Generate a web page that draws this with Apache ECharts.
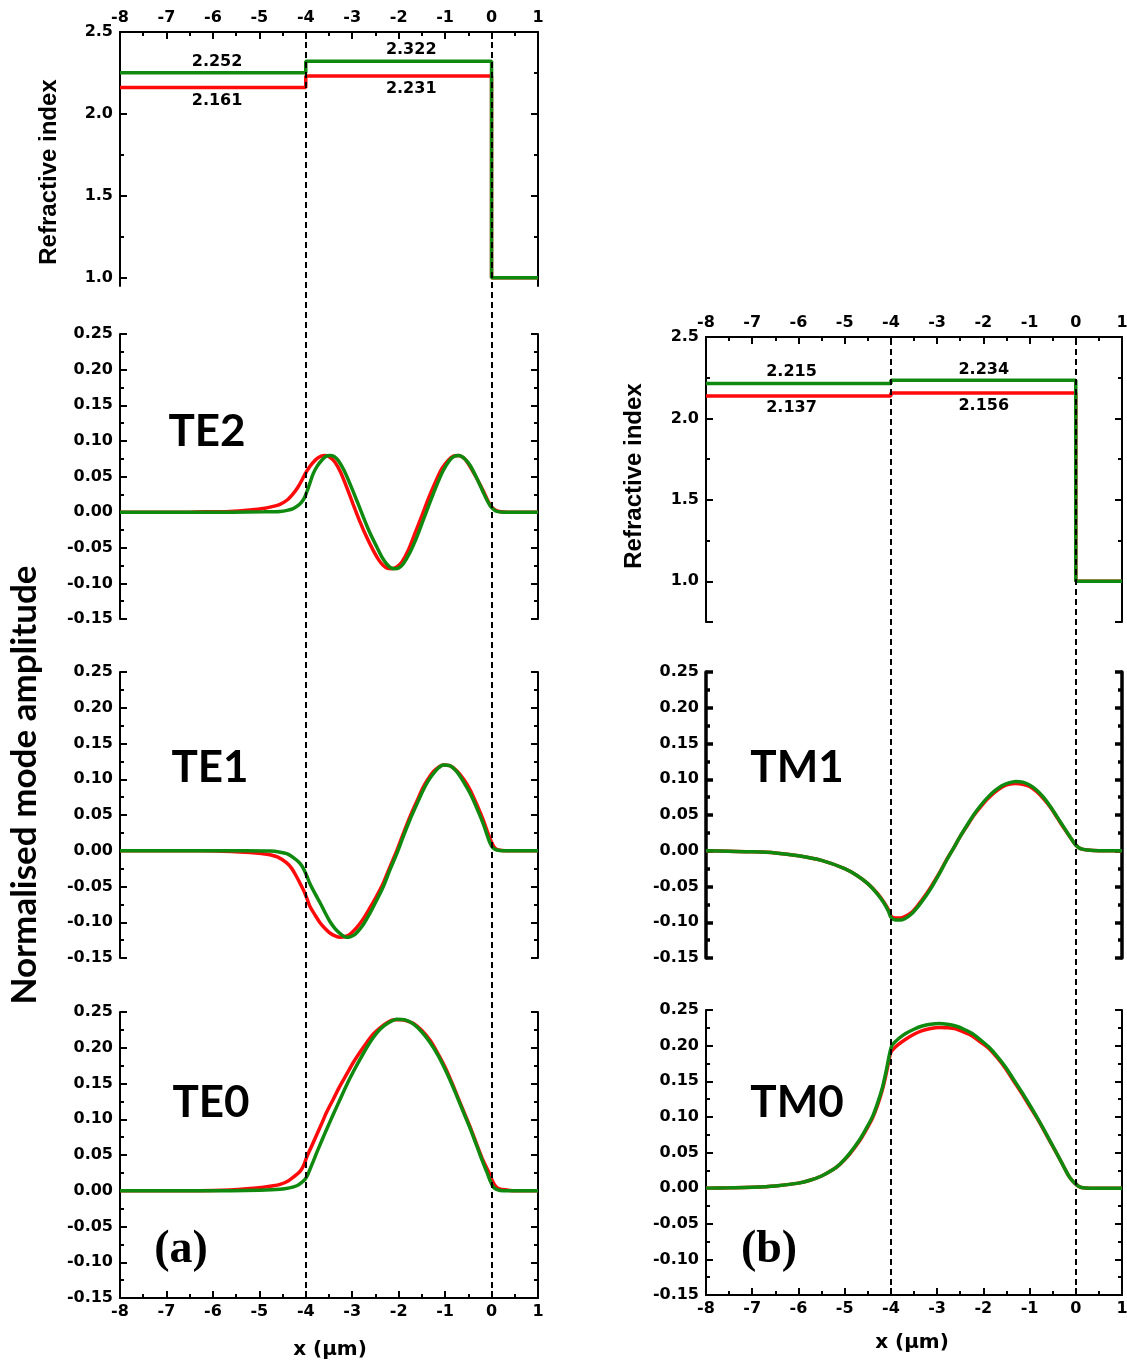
<!DOCTYPE html>
<html>
<head>
<meta charset="utf-8">
<title>Mode profiles</title>
<script src="https://cdn.jsdelivr.net/npm/echarts@6/dist/echarts.min.js"></script>
<style>
html,body{margin:0;padding:0;background:#fff}
#main{width:1127px;height:1365px}
</style>
</head>
<body>
<div id="main"></div>
<script>
// ---- data ----
var xMajor = [-8,-7,-6,-5,-4,-3,-2,-1,0,1];
var xMinor = [-7.5,-6.5,-5.5,-4.5,-3.5,-2.5,-1.5,-0.5,0.5];
var modeMajor = [-0.15,-0.1,-0.05,0,0.05,0.1,0.15,0.2,0.25];
var modeMinor = [-0.125,-0.075,-0.025,0.025,0.075,0.125,0.175,0.225];
var indexLabels = [1.0,1.5,2.0,2.5];
var indexMajorA = [1.0,1.5,2.0,2.5];
var indexMajorB = [0.75,1.0,1.5,2.0,2.5];
var indexMinor = [1.25,1.75,2.25];
var boundaries = [-4, 0];
var cladIndex = 1.0;

// refractive index levels [substrate side, film]
var idxGreenA = [2.252, 2.322];
var idxRedA = [2.161, 2.231];
var idxGreenB = [2.215, 2.234];
var idxRedB = [2.137, 2.156];
var idxLabelXA = [-5.91, -1.73];
var idxLabelXB = [-6.15, -1.99];

var te2Green = [[-8,0],[-5.6,0],[-4.9,0.0004],[-4.555,0.001],[-4.4,0.0025],[-4.27,0.005],[-4.17,0.009],[-4.09,0.014],[-4.03,0.02],[-3.98,0.028],[-3.91,0.041],[-3.84,0.054],[-3.75,0.065],[-3.66,0.0725],[-3.57,0.078],[-3.48,0.0795],[-3.39,0.078],[-3.30,0.0725],[-3.18,0.059],[-3.05,0.040],[-2.9,0.016],[-2.76,-0.007],[-2.62,-0.029],[-2.47,-0.049],[-2.36,-0.063],[-2.26,-0.0725],[-2.17,-0.078],[-2.08,-0.0795],[-1.99,-0.078],[-1.90,-0.0725],[-1.76,-0.057],[-1.61,-0.035],[-1.47,-0.011],[-1.325,0.014],[-1.18,0.038],[-1.04,0.0585],[-0.9,0.073],[-0.8,0.0785],[-0.7,0.0795],[-0.58,0.075],[-0.46,0.0655],[-0.32,0.048],[-0.18,0.028],[-0.1,0.017],[-0.03,0.009],[0.04,0.004],[0.11,0.001],[0.25,0],[1,0]];
var te2Red = [[-8,0],[-6.5,0],[-6.0,0.0006],[-5.63,0.001],[-5.2,0.003],[-4.91,0.005],[-4.7,0.008],[-4.555,0.011],[-4.4,0.017],[-4.27,0.026],[-4.17,0.035],[-4.09,0.044],[-4.02,0.053],[-3.945,0.061],[-3.85,0.069],[-3.76,0.075],[-3.67,0.0785],[-3.585,0.0795],[-3.48,0.077],[-3.37,0.070],[-3.25,0.056],[-3.12,0.035],[-2.98,0.011],[-2.83,-0.014],[-2.69,-0.035],[-2.545,-0.054],[-2.43,-0.067],[-2.33,-0.075],[-2.24,-0.079],[-2.15,-0.0795],[-2.04,-0.077],[-1.93,-0.070],[-1.79,-0.053],[-1.65,-0.030],[-1.5,-0.005],[-1.36,0.019],[-1.21,0.042],[-1.07,0.061],[-0.93,0.073],[-0.82,0.0785],[-0.72,0.0795],[-0.6,0.076],[-0.5,0.068],[-0.34,0.05],[-0.18,0.030],[-0.08,0.016],[0.005,0.007],[0.08,0.003],[0.16,0.001],[0.35,0],[1,0]];

var te1Green = [[-8,0],[-5.3,0],[-4.77,-0.0005],[-4.55,-0.002],[-4.41,-0.004],[-4.3,-0.008],[-4.2,-0.013],[-4.12,-0.018],[-4.05,-0.025],[-3.98,-0.035],[-3.91,-0.046],[-3.8,-0.06],[-3.69,-0.073],[-3.58,-0.087],[-3.48,-0.099],[-3.37,-0.109],[-3.26,-0.116],[-3.17,-0.120],[-3.08,-0.121],[-2.99,-0.119],[-2.91,-0.115],[-2.76,-0.103],[-2.62,-0.0875],[-2.48,-0.07],[-2.33,-0.05],[-2.19,-0.027],[-2.04,-0.004],[-1.9,0.02],[-1.76,0.043],[-1.61,0.065],[-1.47,0.085],[-1.36,0.098],[-1.25,0.108],[-1.14,0.116],[-1.04,0.120],[-0.9,0.119],[-0.75,0.1105],[-0.6,0.096],[-0.46,0.080],[-0.32,0.06],[-0.18,0.038],[-0.1,0.023],[-0.04,0.012],[0.03,0.004],[0.11,0.001],[0.25,0],[1,0]];
var te1Red = [[-8,0],[-6.2,0],[-5.6,-0.001],[-5.2,-0.0025],[-4.95,-0.004],[-4.77,-0.0056],[-4.6,-0.009],[-4.41,-0.017],[-4.3,-0.025],[-4.2,-0.036],[-4.12,-0.046],[-4.05,-0.055],[-3.98,-0.066],[-3.91,-0.078],[-3.8,-0.09],[-3.69,-0.101],[-3.58,-0.109],[-3.48,-0.115],[-3.37,-0.119],[-3.26,-0.121],[-3.15,-0.12],[-3.05,-0.117],[-2.91,-0.108],[-2.77,-0.096],[-2.62,-0.08],[-2.48,-0.064],[-2.33,-0.045],[-2.19,-0.023],[-2.04,0.0],[-1.9,0.024],[-1.76,0.047],[-1.61,0.069],[-1.47,0.089],[-1.36,0.101],[-1.25,0.111],[-1.14,0.117],[-1.04,0.120],[-0.9,0.119],[-0.75,0.112],[-0.6,0.1],[-0.46,0.085],[-0.32,0.065],[-0.18,0.043],[-0.08,0.025],[0,0.012],[0.07,0.004],[0.15,0.001],[0.3,0],[1,0]];

var te0Green = [[-8,0],[-5.6,0],[-5.0,0.0006],[-4.555,0.002],[-4.35,0.004],[-4.195,0.007],[-4.1,0.011],[-4.016,0.016],[-3.96,0.022],[-3.91,0.030],[-3.84,0.041],[-3.76,0.054],[-3.65,0.071],[-3.55,0.086],[-3.4,0.108],[-3.26,0.128],[-3.12,0.148],[-2.98,0.166],[-2.83,0.184],[-2.69,0.200],[-2.55,0.214],[-2.40,0.226],[-2.22,0.235],[-2.04,0.240],[-1.86,0.239],[-1.68,0.233],[-1.5,0.222],[-1.32,0.207],[-1.14,0.188],[-0.965,0.165],[-0.79,0.139],[-0.607,0.110],[-0.46,0.087],[-0.32,0.063],[-0.2,0.042],[-0.1,0.026],[-0.03,0.014],[0.04,0.005],[0.12,0.0015],[0.25,0],[1,0]];
var te0Red = [[-8,0],[-6.3,0],[-5.63,0.001],[-5.2,0.003],[-4.91,0.005],[-4.7,0.007],[-4.555,0.009],[-4.4,0.013],[-4.27,0.019],[-4.17,0.024],[-4.09,0.030],[-4.03,0.038],[-3.98,0.047],[-3.87,0.063],[-3.76,0.079],[-3.65,0.095],[-3.55,0.110],[-3.4,0.129],[-3.26,0.147],[-3.12,0.163],[-2.98,0.179],[-2.83,0.194],[-2.69,0.207],[-2.55,0.219],[-2.40,0.228],[-2.25,0.235],[-2.11,0.239],[-1.95,0.239],[-1.8,0.237],[-1.68,0.234],[-1.5,0.224],[-1.32,0.21],[-1.14,0.19],[-0.965,0.168],[-0.79,0.141],[-0.607,0.112],[-0.46,0.089],[-0.32,0.065],[-0.2,0.045],[-0.06,0.026],[0.01,0.015],[0.08,0.007],[0.17,0.0025],[0.33,0.001],[0.5,0],[1,0]];

var tm1Green = [[-8,0],[-7.5,-0.0007],[-7.0,-0.0014],[-6.5,-0.003],[-6.0,-0.007],[-5.5,-0.0135],[-5.0,-0.025],[-4.75,-0.034],[-4.5,-0.046],[-4.3,-0.06],[-4.15,-0.073],[-4.05,-0.085],[-4.0,-0.093],[-3.9,-0.097],[-3.8,-0.097],[-3.7,-0.095],[-3.55,-0.088],[-3.4,-0.077],[-3.25,-0.064],[-3.1,-0.049],[-2.95,-0.032],[-2.8,-0.014],[-2.65,0.003],[-2.5,0.02],[-2.35,0.036],[-2.2,0.051],[-2.05,0.064],[-1.9,0.075],[-1.75,0.084],[-1.6,0.091],[-1.45,0.095],[-1.3,0.097],[-1.15,0.096],[-1.0,0.092],[-0.85,0.085],[-0.7,0.075],[-0.55,0.062],[-0.4,0.047],[-0.25,0.032],[-0.1,0.017],[0,0.008],[0.1,0.003],[0.25,0.001],[0.5,0],[1,0]];
var tm1Red = [[-8,0],[-7.5,-0.0007],[-7.0,-0.0014],[-6.5,-0.003],[-6.0,-0.007],[-5.5,-0.0135],[-5.0,-0.025],[-4.75,-0.034],[-4.5,-0.046],[-4.3,-0.059],[-4.15,-0.072],[-4.05,-0.083],[-4.0,-0.091],[-3.9,-0.094],[-3.8,-0.094],[-3.7,-0.092],[-3.55,-0.086],[-3.4,-0.075],[-3.25,-0.062],[-3.1,-0.047],[-2.95,-0.031],[-2.8,-0.013],[-2.65,0.003],[-2.5,0.02],[-2.35,0.035],[-2.2,0.05],[-2.05,0.062],[-1.9,0.073],[-1.75,0.082],[-1.6,0.089],[-1.45,0.093],[-1.3,0.094],[-1.15,0.093],[-1.0,0.09],[-0.85,0.083],[-0.7,0.073],[-0.55,0.061],[-0.4,0.046],[-0.25,0.031],[-0.1,0.017],[0,0.008],[0.1,0.003],[0.25,0.001],[0.5,0],[1,0]];

var tm0Green = [[-8,0],[-7.5,0.0005],[-7.0,0.0012],[-6.5,0.003],[-6.0,0.007],[-5.75,0.011],[-5.5,0.017],[-5.25,0.026],[-5.11,0.033],[-4.9,0.048],[-4.68,0.0675],[-4.54,0.083],[-4.4,0.100],[-4.29,0.119],[-4.18,0.142],[-4.1,0.165],[-4.04,0.185],[-4.0,0.196],[-3.97,0.201],[-3.83,0.21],[-3.68,0.217],[-3.5,0.223],[-3.32,0.2275],[-3.14,0.23],[-2.96,0.231],[-2.78,0.23],[-2.6,0.2275],[-2.42,0.223],[-2.24,0.217],[-2.06,0.208],[-1.88,0.198],[-1.7,0.185],[-1.52,0.170],[-1.35,0.153],[-1.17,0.135],[-0.99,0.116],[-0.81,0.096],[-0.63,0.075],[-0.45,0.0535],[-0.3,0.035],[-0.16,0.018],[-0.08,0.011],[-0.02,0.007],[0.05,0.003],[0.12,0.001],[0.3,0],[1,0]];
var tm0Red = [[-8,0],[-7.5,0.0005],[-7.0,0.0012],[-6.5,0.003],[-6.0,0.007],[-5.75,0.011],[-5.5,0.017],[-5.25,0.026],[-5.11,0.033],[-4.9,0.047],[-4.68,0.066],[-4.54,0.081],[-4.4,0.098],[-4.29,0.116],[-4.18,0.139],[-4.1,0.161],[-4.04,0.180],[-4.0,0.191],[-3.95,0.195],[-3.83,0.202],[-3.68,0.209],[-3.5,0.216],[-3.32,0.221],[-3.14,0.224],[-2.96,0.2255],[-2.78,0.2252],[-2.6,0.2237],[-2.42,0.219],[-2.24,0.2135],[-2.06,0.205],[-1.88,0.196],[-1.7,0.183],[-1.52,0.168],[-1.35,0.151],[-1.17,0.133],[-0.99,0.114],[-0.81,0.095],[-0.63,0.074],[-0.45,0.053],[-0.3,0.035],[-0.16,0.018],[-0.08,0.011],[-0.02,0.007],[0.05,0.003],[0.12,0.001],[0.3,0],[1,0]];

// ---- styling ----
var RED = '#ff0a0a';
var GREEN = '#0f8a0f';
var TICK_FONT = 'DejaVu Sans';

var option = {
	animation: false,
	backgroundColor: '#fff',
	grid: [], xAxis: [], yAxis: [], series: [], graphic: []
};

function makeAxis(o) {
	var lw = o.lw || 2;
	return {
		type: 'value', gridIndex: o.grid, position: o.pos, offset: 0,
		min: o.min, max: o.max, show: o.show !== false,
		axisLine: { show: !!o.line, onZero: false, lineStyle: { color: '#000', width: lw } },
		axisTick: { show: !!o.ticks, inside: true, length: o.len || 7,
			customValues: o.ticks, lineStyle: { color: '#000', width: lw } },
		axisLabel: { show: !!o.labels, customValues: o.labels, margin: o.margin || 7,
			formatter: o.fmt, color: '#000', fontFamily: TICK_FONT, fontWeight: 'bold',
			fontSize: 16, showMinLabel: true, showMaxLabel: true, hideOverlap: false },
		splitLine: { show: false }, minorTick: { show: false }, minorSplitLine: { show: false }
	};
}

function intFmt(v) { return String(Math.round(v)); }
function fmt2(v) { return v.toFixed(2); }
function fmt1(v) { return v.toFixed(1); }

function gridAt(left, top, width, height) {
	return { left: left, top: top, width: width, height: height, containLabel: false, outerBoundsMode: 'none' };
}

// one panel: grid + x axis (+minor) + left/right y axes (+minor)
function addPanel(p) {
	var gi = option.grid.length;
	option.grid.push(gridAt(p.left, p.top, p.width, p.height));
	var xi = option.xAxis.length;
	var hasX = !!p.xPos;
	option.xAxis.push(makeAxis({ grid: gi, pos: p.xPos || 'bottom', min: -8, max: 1,
		line: hasX, ticks: hasX ? xMajor : null, labels: hasX ? xMajor : null, fmt: intFmt, margin: 6 }));
	if (hasX) {
		option.xAxis.push(makeAxis({ grid: gi, pos: p.xPos, min: -8, max: 1, ticks: xMinor, len: 4 }));
	}
	var yi = option.yAxis.length;
	var lw = p.lw || 2;
	option.yAxis.push(makeAxis({ grid: gi, pos: 'left', min: p.ymin, max: p.ymax, line: true,
		ticks: p.yMajor, labels: p.yLabels, fmt: p.yFmt, lw: lw }));
	option.yAxis.push(makeAxis({ grid: gi, pos: 'left', min: p.ymin, max: p.ymax, ticks: p.yMinor, len: 4, lw: lw }));
	option.yAxis.push(makeAxis({ grid: gi, pos: 'right', min: p.ymin, max: p.ymax, line: true,
		ticks: p.yMajor, lw: lw }));
	option.yAxis.push(makeAxis({ grid: gi, pos: 'right', min: p.ymin, max: p.ymax, ticks: p.yMinor, len: 4, lw: lw }));
	p.series.forEach(function (s) {
		s.xAxisIndex = xi;
		s.yAxisIndex = yi;
		option.series.push(s);
	});
}

// dashed interface lines running down a whole column
function addDashes(left, top, width, height) {
	var gi = option.grid.length;
	option.grid.push(gridAt(left, top, width, height));
	var xi = option.xAxis.length, yi = option.yAxis.length;
	option.xAxis.push({ type: 'value', gridIndex: gi, min: -8, max: 1, show: false });
	option.yAxis.push({ type: 'value', gridIndex: gi, min: 0, max: 1, show: false });
	option.series.push({
		type: 'line', xAxisIndex: xi, yAxisIndex: yi, data: [[-8, 0]], showSymbol: false,
		lineStyle: { width: 0 }, silent: true,
		markLine: {
			silent: true, symbol: ['none', 'none'], label: { show: false },
			lineStyle: { color: '#000', width: 2, type: [6, 4] },
			data: boundaries.map(function (b) { return { xAxis: b }; })
		}
	});
}

function stepData(levels) {
	return [[-8, levels[0]], [boundaries[0], levels[0]], [boundaries[0], levels[1]],
		[boundaries[1], levels[1]], [boundaries[1], cladIndex], [1, cladIndex]];
}

function indexSeries(levels, color, labelX, dy) {
	return {
		type: 'line', data: stepData(levels), showSymbol: false, smooth: false,
		lineStyle: { color: color, width: 3.5 }, z: color === GREEN ? 4 : 3,
		markPoint: {
			symbol: 'circle', symbolSize: 0, silent: true,
			label: { show: true, formatter: '{b}', color: '#000', fontFamily: TICK_FONT,
				fontWeight: 'bold', fontSize: 16, position: 'inside' },
			data: levels.map(function (l, i) {
				return { name: l.toFixed(3), coord: [labelX[i], l], label: { offset: [0, dy[i]] } };
			})
		}
	};
}

function modeSeries(data, color) {
	return {
		type: 'line', data: data, showSymbol: false, smooth: 0.3,
		lineStyle: { color: color, width: 3.5 }, z: color === GREEN ? 4 : 3
	};
}

function modePanel(left, width, top, height, red, green, xPos, lw) {
	addPanel({ left: left, width: width, top: top, height: height, ymin: -0.15, ymax: 0.25,
		yMajor: modeMajor, yMinor: modeMinor, yLabels: modeMajor, yFmt: fmt2, xPos: xPos, lw: lw,
		series: [modeSeries(red, RED), modeSeries(green, GREEN)] });
}

// column (a)
var LA = 120, WA = 418;
addDashes(LA, 32, WA, 1266);
addPanel({ left: LA, width: WA, top: 32, height: 254, ymin: 0.95, ymax: 2.5,
	yMajor: indexMajorA, yMinor: indexMinor, yLabels: indexLabels, yFmt: fmt1, xPos: 'top',
	series: [indexSeries(idxRedA, RED, idxLabelXA, [13, 13]), indexSeries(idxGreenA, GREEN, idxLabelXA, [-11, -11])] });
modePanel(LA, WA, 334, 285, te2Red, te2Green, null);
modePanel(LA, WA, 672, 286, te1Red, te1Green, null);
modePanel(LA, WA, 1012, 286, te0Red, te0Green, 'bottom');

// column (b)
var LB = 706, WB = 416;
addDashes(LB, 337, WB, 958);
addPanel({ left: LB, width: WB, top: 337, height: 285, ymin: 0.75, ymax: 2.5,
	yMajor: indexMajorB, yMinor: indexMinor, yLabels: indexLabels, yFmt: fmt1, xPos: 'top',
	series: [indexSeries(idxRedB, RED, idxLabelXB, [12, 13]), indexSeries(idxGreenB, GREEN, idxLabelXB, [-12, -10])] });
modePanel(LB, WB, 672, 286, tm1Red, tm1Green, null, 3.5);
modePanel(LB, WB, 1010, 285, tm0Red, tm0Green, 'bottom');

// ---- text ----
function txt(text, x, y, font, rot) {
	option.graphic.push({
		type: 'text', x: x, y: y, rotation: rot ? Math.PI / 2 : 0, silent: true,
		style: { text: text, x: 0, y: 0, align: 'center', verticalAlign: 'middle', font: font, fill: '#000' }
	});
}
txt('Refractive index', 49, 172, 'bold 24px "Liberation Sans"', true);
txt('Refractive index', 634, 476, 'bold 24px "Liberation Sans"', true);
txt('Normalised mode amplitude', 25, 785, 'bold 35px Lato', true);
txt('TE2', 207, 432, 'bold 44px Lato');
txt('TE1', 210, 768, 'bold 44px Lato');
txt('TE0', 211, 1103, 'bold 44px Lato');
txt('TM1', 797, 768, 'bold 44px Lato');
txt('TM0', 797, 1103, 'bold 44px Lato');
txt('(a)', 181, 1250, 'bold 46px "Liberation Serif"');
txt('(b)', 769, 1250, 'bold 46px "Liberation Serif"');
txt('x (\u03bcm)', 330, 1350, 'bold 20px "DejaVu Sans"');
txt('x (\u03bcm)', 912, 1343, 'bold 20px "DejaVu Sans"');

var chart = echarts.init(document.getElementById('main'));
chart.setOption(option);
</script>
</body>
</html>
